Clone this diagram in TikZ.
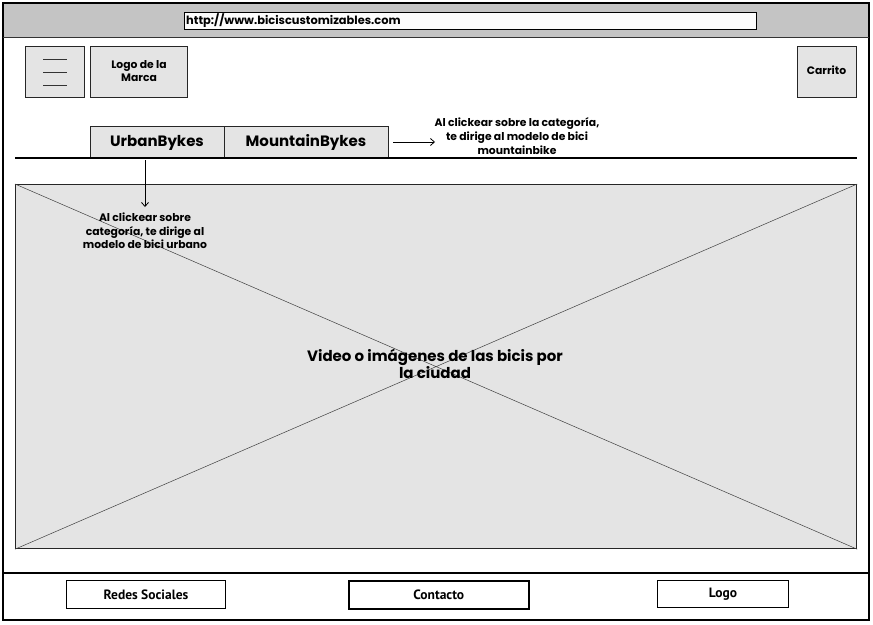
\documentclass[tikz,border=0pt]{standalone}
\usepackage{fontspec}
\setmainfont{Poppins}
\newfontfamily\narrowfont{PT Sans}
\usetikzlibrary{arrows.meta}
\definecolor{barc}{HTML}{C4C4C4}
\definecolor{boxc}{HTML}{E4E4E4}
\definecolor{urlc}{HTML}{FCFCFC}
\tikzset{
  frame/.style={draw=black, line width=1.2pt},
  wbox/.style={draw=black!85, line width=1.2pt, fill=boxc},
  lbl/.style={font=\bfseries\fontsize{10.8}{13.6}\selectfont, align=center, text=black},
  tab/.style={font=\bfseries\fontsize{15}{17}\selectfont},
  fbtn/.style={draw=black, line width=1pt, fill=white, font=\narrowfont\bfseries\fontsize{13.5}{15}\selectfont},
  arr/.style={-{Straight Barb[length=4pt,width=7pt]}, line width=0.8pt},
}
\begin{document}
\begin{tikzpicture}[x=1pt,y=-1pt]
\useasboundingbox (0,0) rectangle (873,624);
% outer frame
\fill[white] (3,3) rectangle (869,620);
\fill[barc] (3,3) rectangle (869,37);
\draw[frame] (3,3) rectangle (869,620);
\draw[frame, draw=black!80] (3,37.5) -- (869,37.5);
% url box
\node[draw=black, line width=1pt, fill=urlc, minimum width=572pt, minimum height=17pt, anchor=north west, inner sep=0pt] (url) at (184,12) {};
\node[anchor=west, font=\bfseries\fontsize{11.4}{13}\selectfont, inner sep=0pt] (urltext) at (186,20.5) {http://www.biciscustomizables.com};
% header boxes
\node[wbox, minimum width=59pt, minimum height=51pt, anchor=north west, inner sep=0pt] (menu) at (25,46) {};
\draw[line width=1pt, black!80] (43,59) -- (67,59) (43,72) -- (67,72) (43,85) -- (67,85);
\node[wbox, minimum width=97pt, minimum height=51pt, anchor=north west, inner sep=0pt] (logo) at (90,46) {};
\node[lbl, inner sep=0pt] (logotext) at (139,71) {Logo de la\\Marca};
\node[wbox, minimum width=59pt, minimum height=51pt, anchor=north west, inner sep=0pt] (cart) at (797,46) {};
\node[lbl, inner sep=0pt] (carttext) at (826.5,70) {Carrito};
% tabs
\node[wbox, line width=1pt, minimum width=134pt, minimum height=31pt, anchor=north west, inner sep=0pt] (urban) at (90,126) {};
\node[tab, inner sep=0pt] (urbantext) at (157,142.5) {UrbanBykes};
\node[wbox, line width=1pt, minimum width=164pt, minimum height=31pt, anchor=north west, inner sep=0pt] (mountain) at (224,126) {};
\node[tab, inner sep=0pt] (mountaintext) at (306,142.5) {MountainBykes};
\draw[line width=1.2pt] (15,158) -- (857,158);
% image placeholder
\node[draw=black!85, line width=1.2pt, fill=boxc, minimum width=841pt, minimum height=364pt, anchor=north west, inner sep=0pt] (img) at (15,184) {};
\draw[line width=0.5pt, black!75] (img.north west) -- (img.south east) (img.south west) -- (img.north east);
\node[font=\bfseries\fontsize{15}{17}\selectfont, align=center, inner sep=0pt] (imgtext) at (435,364) {Video o imágenes de las bicis por\\la ciudad};
% annotations
\node[lbl, inner sep=0pt] (noteM) at (517,136) {Al clickear sobre la categoría,\\te dirige al modelo de bici\\mountainbike};
\coordinate (mstart) at (393,142);
\draw[arr] (mstart) -- (435,142);
\node[lbl, inner sep=0pt] (noteU) at (145,231) {Al clickear sobre\\categoría, te dirige al\\modelo de bici urbano};
\coordinate (ustart) at (145,160);
\draw[arr] (ustart) -- (145,207);
% footer
\draw[line width=1.5pt] (3,573) -- (869,573);
\node[fbtn, minimum width=159pt, minimum height=28pt, anchor=north west, inner sep=0pt] (redes) at (66,580) {Redes Sociales};
\node[fbtn, line width=1.6pt, minimum width=180pt, minimum height=28pt, anchor=north west, inner sep=0pt] (contacto) at (348,580) {Contacto};
\node[fbtn, minimum width=131pt, minimum height=27pt, anchor=north west, inner sep=0pt] (flogo) at (657,580) {Logo};
\end{tikzpicture}
\end{document}
